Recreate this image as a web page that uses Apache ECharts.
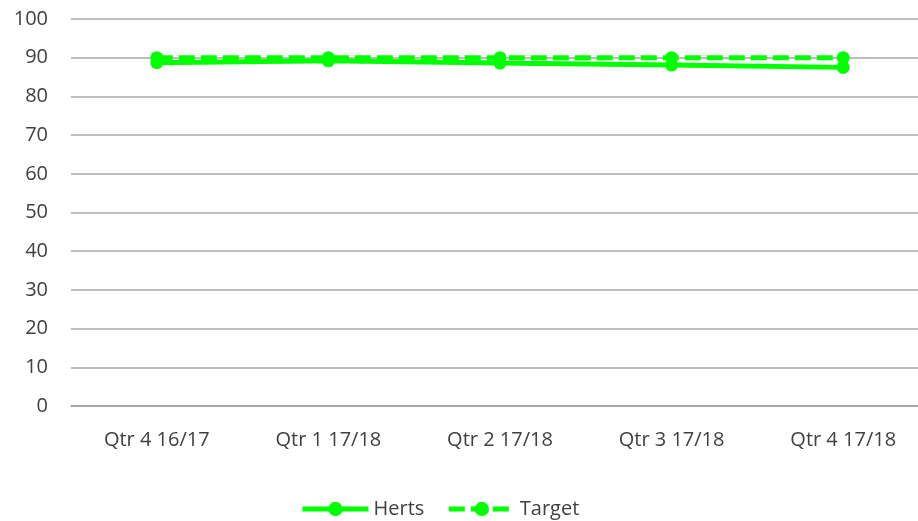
<!DOCTYPE html>
<html>
<head>
<meta charset="utf-8">
<script src="https://cdn.jsdelivr.net/npm/echarts@6/dist/echarts.min.js"></script>
<style>html,body{margin:0;padding:0;background:#fff;overflow:hidden;}#c{width:930px;height:521px;}</style>
</head>
<body>
<div id="c"></div>
<script>
var categories = ['Qtr 4 16/17', 'Qtr 1 17/18', 'Qtr 2 17/18', 'Qtr 3 17/18', 'Qtr 4 17/18'];
var hertsValues = [88.7, 89.2, 88.6, 88.1, 87.5];
var targetValues = [90, 90, 90, 90, 90];
var yTicks = [0, 10, 20, 30, 40, 50, 60, 70, 80, 90, 100];

var chart = echarts.init(document.getElementById('c'));
var green = '#00FF00';
var txt = '#404040';
chart.setOption({
  animation: false,
  textStyle: { fontFamily: 'Open Sans' },
  grid: { left: 71, right: 1, top: 19, bottom: 115, containLabel: false },
  xAxis: {
    type: 'category',
    data: categories,
    boundaryGap: true,
    axisLine: { show: true, lineStyle: { color: '#9e9e9e', width: 1.5 } },
    axisTick: { show: false },
    axisLabel: { color: txt, fontSize: 20, margin: 24 }
  },
  yAxis: {
    type: 'value',
    min: yTicks[0],
    max: yTicks[yTicks.length - 1],
    interval: 10,
    axisLine: { show: false },
    axisTick: { show: false },
    axisLabel: { color: txt, fontSize: 20, margin: 23 },
    splitLine: { lineStyle: { color: '#a6a6a6', width: 1.5 } }
  },
  legend: {
    top: 494,
    left: 295,
    itemWidth: 66,
    itemHeight: 18,
    itemGap: 22,
    lineStyle: { width: 5 },
    textStyle: { color: txt, fontSize: 20 },
    data: ['Herts', 'Target']
  },
  series: [
    {
      name: 'Herts',
      type: 'line',
      data: hertsValues,
      symbol: 'circle',
      symbolSize: 13,
      itemStyle: { color: green },
      lineStyle: { color: green, width: 5 }
    },
    {
      name: 'Target',
      type: 'line',
      data: targetValues,
      symbol: 'circle',
      symbolSize: 13,
      itemStyle: { color: green },
      lineStyle: { color: green, width: 5, type: [16, 6] }
    }
  ]
});
</script>
</body>
</html>
